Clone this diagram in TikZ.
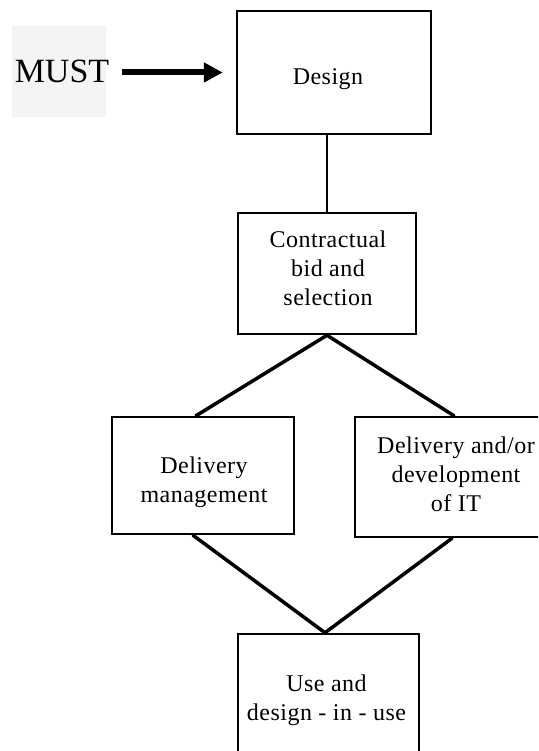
\documentclass[tikz,border=0pt]{standalone}
\usepackage{fontspec}
\setmainfont{Liberation Serif}
\newfontfamily\boxfont[LetterSpace=2]{Liberation Serif}
\usetikzlibrary{arrows.meta}
\definecolor{mustgray}{RGB}{244,244,244}
\tikzset{
  box/.style={draw=black, line width=2.5pt, fill=white, inner sep=0pt},
  lbl/.style={inner sep=0pt, align=center, font=\boxfont\fontsize{24}{29}\selectfont},
  link/.style={line width=3.5pt, line cap=round},
}
\begin{document}
\begin{tikzpicture}[x=1pt, y=-1pt]
\useasboundingbox (0,0) rectangle (538,751);
\clip (0,0) rectangle (538,751);
\fill[white] (0,0) rectangle (538,751);
% MUST label
\node[fill=mustgray, minimum width=94pt, minimum height=91pt, inner sep=0pt] (mustbg) at (59,71.5) {};
\node[inner sep=0pt, anchor=base, font=\fontsize{34}{40}\selectfont] (must) at (62,83) {MUST};
% boxes
\node[box, minimum width=194pt, minimum height=123pt] (design) at (334,72.5) {};
\node[box, minimum width=178pt, minimum height=121pt] (contract) at (327,273.5) {};
\node[box, minimum width=182pt, minimum height=117pt] (dmgmt) at (203,475.5) {};
\node[box, minimum width=198pt, minimum height=120pt] (dit) at (454,477) {};
\node[box, minimum width=181pt, minimum height=180pt] (use) at (328.5,724) {};
% texts
\node[lbl, anchor=base] (designtxt) at (328,85) {Design};
\node[lbl] (contracttxt) at (328,268.5) {Contractual\\bid and\\selection};
\node[lbl] (dmgmttxt) at (204,482.5) {Delivery\\management};
\node[lbl] (dittxt) at (456,474) {Delivery and/or\\development\\of IT};
\node[lbl] (usetxt) at (326.5,700.5) {Use and\\design - in - use};
% connectors
\coordinate (arrowstart) at (122,72.5);
\draw[line width=6pt, -{Triangle[length=19pt,width=19pt]}, shorten >=13pt] (arrowstart) -- (design.west);
\draw[line width=1.3pt] (contract.north) -- (contract.north |- design.south);
\draw[link] (dmgmt.north -| 196,0) -- (contract.south) -- (dit.north);
\draw[link] (dmgmt.south -| 193,0) -- (use.north -| 325,0) -- (dit.south -| 452,0);
\end{tikzpicture}
\end{document}
